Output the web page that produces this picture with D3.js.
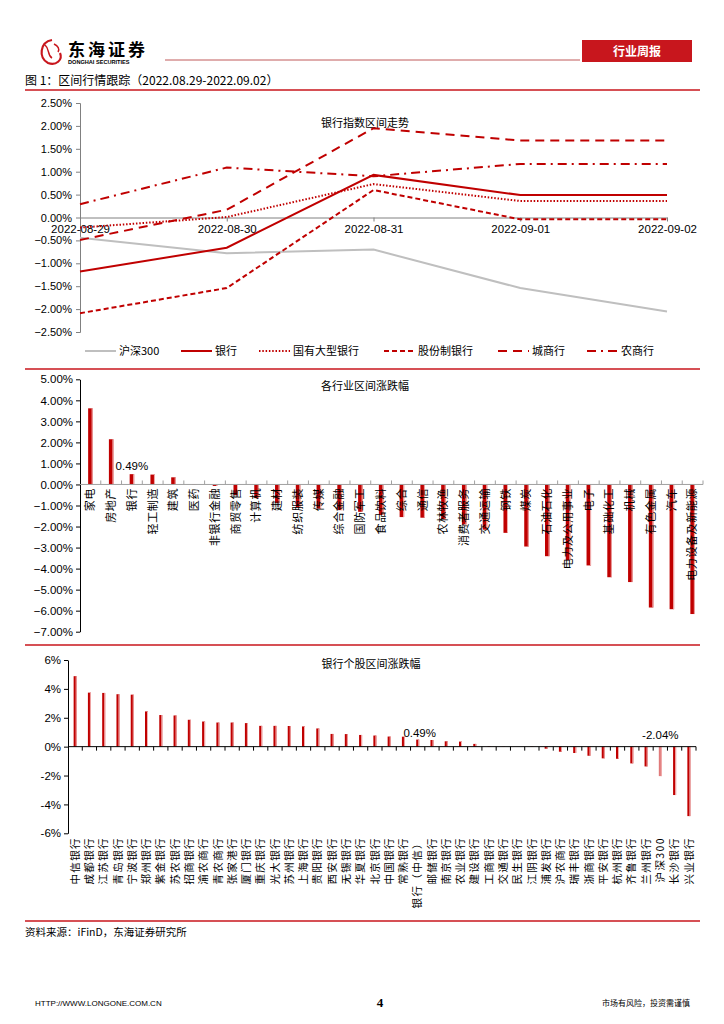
<!DOCTYPE html>
<html>
<head>
<meta charset="utf-8">
<script src="https://cdn.jsdelivr.net/npm/d3@7/dist/d3.min.js"></script>
<style>
  body { margin: 0; background: #fff; }
  svg { display: block; }
  .cn { font-family: "Noto Sans CJK SC", sans-serif; }
  .num { font-family: "Liberation Sans", Arial, sans-serif; }
</style>
</head>
<body>
<svg id="page" width="724" height="1024"></svg>
<script>
// ---- data ----
var dates = ["2022-08-29", "2022-08-30", "2022-08-31", "2022-09-01", "2022-09-02"];
var hs300 = [-0.44, -0.78, -0.70, -1.54, -2.05];
var bank = [-1.18, -0.66, 0.93, 0.49, 0.49];
var bigBank = [-0.22, 0.01, 0.73, 0.36, 0.36];
var jointBank = [-2.09, -1.54, 0.60, -0.04, -0.04];
var cityBank = [-0.49, 0.17, 1.95, 1.68, 1.68];
var ruralBank = [0.29, 1.09, 0.90, 1.17, 1.17];
var lineTicks = [2.5, 2, 1.5, 1, 0.5, 0, -0.5, -1, -1.5, -2, -2.5];

var industries = ["家电", "房地产", "银行", "轻工制造", "建筑", "医药", "非银行金融", "商贸零售", "计算机", "建材",
  "纺织服装", "传媒", "综合金融", "国防军工", "食品饮料", "综合", "通信", "农林牧渔", "消费者服务", "交通运输",
  "钢铁", "煤炭", "石油石化", "电力及公用事业", "电子", "基础化工", "机械", "有色金属", "汽车", "电力设备及新能源"];
var industryChg = [3.62, 2.15, 0.49, 0.47, 0.34, 0.02, -0.07, -0.50, -0.65, -0.88,
  -1.10, -1.15, -1.22, -1.30, -1.45, -1.55, -1.58, -1.65, -1.90, -2.15,
  -2.30, -2.95, -3.41, -3.60, -3.85, -4.41, -4.64, -5.85, -5.93, -6.16];
var industryTicks = [5, 4, 3, 2, 1, 0, -1, -2, -3, -4, -5, -6, -7];

var banks = ["中信银行", "成都银行", "江苏银行", "青岛银行", "宁波银行", "郑州银行", "紫金银行", "苏农银行", "招商银行", "渝农商行",
  "青农商行", "张家港行", "厦门银行", "重庆银行", "光大银行", "苏州银行", "上海银行", "贵阳银行", "西安银行", "无锡银行",
  "华夏银行", "北京银行", "中国银行", "常熟银行", "银行（中信）", "邮储银行", "南京银行", "农业银行", "建设银行", "工商银行",
  "交通银行", "民生银行", "江阴银行", "浦发银行", "沪农商行", "瑞丰银行", "浙商银行", "平安银行", "杭州银行", "齐鲁银行",
  "兰州银行", "沪深300", "长沙银行", "兴业银行"];
var bankChg = [4.88, 3.74, 3.72, 3.63, 3.60, 2.44, 2.19, 2.16, 1.86, 1.74,
  1.67, 1.67, 1.63, 1.44, 1.44, 1.43, 1.40, 1.26, 0.88, 0.87,
  0.81, 0.77, 0.70, 0.69, 0.49, 0.46, 0.37, 0.35, 0.19, 0.03,
  0.01, 0.00, -0.02, -0.14, -0.35, -0.44, -0.63, -0.81, -0.84, -1.16,
  -1.37, -2.04, -3.35, -4.81];
var bankTicks = [6, 4, 2, 0, -2, -4, -6];

var RED = "#c00000", GREY = "#808080";
var svg = d3.select("#page");

// ---- page header ----
var logo = svg.append("g");
logo.append("path").attr("d", "M52,40 C40,42 38,58 48,63 C56,66 63,60 60,53")
  .attr("fill", "none").attr("stroke", "#c8161d").attr("stroke-width", 2.2);
logo.append("path").attr("d", "M45,45 C50,49 47,55 52,58 M54,44 C58,46 60,49 58,52")
  .attr("fill", "none").attr("stroke", "#c8161d").attr("stroke-width", 1.5);
logo.append("text").attr("class", "cn").attr("x", 68).attr("y", 56)
  .attr("font-size", 17).attr("font-weight", "bold").attr("letter-spacing", 3).text("东海证券");
logo.append("text").attr("class", "num").attr("x", 68).attr("y", 64)
  .attr("font-size", 5.6).attr("font-weight", "bold").text("DONGHAI SECURITIES");
svg.append("line").attr("x1", 165).attr("x2", 580).attr("y1", 60).attr("y2", 60)
  .attr("stroke", "#b03030").attr("stroke-width", 0.8);
svg.append("rect").attr("x", 582).attr("y", 40).attr("width", 110).attr("height", 22).attr("fill", "#c8161d");
svg.append("text").attr("class", "cn").attr("x", 637).attr("y", 55.5).attr("text-anchor", "middle")
  .attr("fill", "#fff").attr("font-size", 12).attr("font-weight", "bold").text("行业周报");

svg.append("text").attr("class", "cn").attr("x", 25).attr("y", 85).attr("font-size", 12)
  .text("图 1：区间行情跟踪（2022.08.29-2022.09.02）");

[90, 369, 645, 921].forEach(function (y) {
  svg.append("line").attr("x1", 25).attr("x2", 700).attr("y1", y).attr("y2", y)
    .attr("stroke", "#c8161d").attr("stroke-width", 1.6);
});

// ---- chart 1: bank index lines ----
var x1 = d3.scalePoint().domain(dates).range([80, 667]);
var y1 = d3.scaleLinear().domain([-2.5, 2.5]).range([332, 103]);
var c1 = svg.append("g");

c1.append("g").attr("transform", "translate(80,0)")
  .call(d3.axisLeft(y1).tickValues(lineTicks).tickSize(4).tickFormat(function (d) { return d3.format(".2f")(d) + "%"; }))
  .call(function (g) {
    g.select(".domain").attr("stroke", GREY);
    g.selectAll(".tick line").attr("stroke", GREY);
    g.selectAll("text").attr("class", "num").attr("font-size", 11).attr("fill", "#000").attr("x", -8);
  });
c1.append("g").attr("transform", "translate(0," + y1(0) + ")")
  .call(d3.axisBottom(x1).tickSize(4).tickSizeOuter(0))
  .call(function (g) {
    g.select(".domain").attr("stroke", GREY);
    g.selectAll(".tick line").attr("stroke", GREY);
    g.selectAll("text").attr("class", "num").attr("font-size", 11.5).attr("fill", "#000").attr("y", 7);
  });

c1.append("text").attr("class", "cn").attr("x", 365).attr("y", 127).attr("text-anchor", "middle")
  .attr("font-size", 11).text("银行指数区间走势");

var series = [
  {name: "沪深300", values: hs300, color: "#bfbfbf", dash: null},
  {name: "银行", values: bank, color: RED, dash: null},
  {name: "国有大型银行", values: bigBank, color: RED, dash: "1.5,1.8"},
  {name: "股份制银行", values: jointBank, color: RED, dash: "5,3"},
  {name: "城商行", values: cityBank, color: RED, dash: "9,6"},
  {name: "农商行", values: ruralBank, color: RED, dash: "9,5,2,5"}
];
var line = d3.line().x(function (d, i) { return x1(dates[i]); }).y(function (d) { return y1(d); });
c1.selectAll(".series").data(series).enter().append("path")
  .attr("d", function (d) { return line(d.values); })
  .attr("fill", "none")
  .attr("stroke", function (d) { return d.color; })
  .attr("stroke-width", 2)
  .attr("stroke-dasharray", function (d) { return d.dash; });

var legX = [85, 181, 259, 384, 498, 587];
var leg = c1.selectAll(".leg").data(series).enter().append("g")
  .attr("transform", function (d, i) { return "translate(" + legX[i] + ",351)"; });
leg.append("line").attr("x1", 0).attr("x2", 31).attr("y1", 0).attr("y2", 0)
  .attr("stroke", function (d) { return d.color; }).attr("stroke-width", 2)
  .attr("stroke-dasharray", function (d) { return d.dash; });
leg.append("text").attr("class", "cn").attr("x", 34).attr("y", 4).attr("font-size", 11)
  .text(function (d) { return d.name; });

// ---- bar helper ----
function barChart(opt) {
  var g = svg.append("g");
  var x = d3.scaleBand().domain(opt.cats).range(opt.xr);
  var y = d3.scaleLinear().domain(opt.dom).range(opt.yr);
  g.append("g").attr("transform", "translate(" + opt.xr[0] + ",0)")
    .call(d3.axisLeft(y).tickValues(opt.ticks).tickSize(4).tickSizeOuter(0).tickFormat(opt.fmt))
    .call(function (a) {
      a.select(".domain").attr("stroke", "#000");
      a.selectAll(".tick line").attr("stroke", "#000");
      a.selectAll("text").attr("class", "num").attr("font-size", opt.tickFont).attr("fill", "#000").attr("x", -7);
    });
  g.selectAll(".bar").data(opt.vals).enter().append("rect")
    .attr("x", function (d, i) { return x(opt.cats[i]) + x.bandwidth() / 2 - opt.bw / 2; })
    .attr("y", function (d) { return y(Math.max(0, d)); })
    .attr("width", opt.bw)
    .attr("height", function (d) { return Math.abs(y(d) - y(0)); })
    .attr("fill", function (d, i) { return opt.cats[i] === opt.light ? "#e07a7a" : RED; });
  g.selectAll(".edge").data(opt.vals).enter().append("rect")
    .attr("x", function (d, i) { return x(opt.cats[i]) + x.bandwidth() / 2 + opt.bw / 2 - 1; })
    .attr("y", function (d) { return y(Math.max(0, d)); })
    .attr("width", 1)
    .attr("height", function (d) { return Math.abs(y(d) - y(0)); })
    .attr("fill", "#f2b0b0");
  // zero axis with band ticks
  g.append("line").attr("x1", opt.xr[0]).attr("x2", opt.xr[1]).attr("y1", y(0)).attr("y2", y(0))
    .attr("stroke", opt.zeroColor).attr("stroke-width", 1);
  g.selectAll(".bt").data(opt.cats).enter().append("line")
    .attr("x1", function (d) { return x(d) + x.bandwidth(); })
    .attr("x2", function (d) { return x(d) + x.bandwidth(); })
    .attr("y1", y(0)).attr("y2", y(0) + opt.tickDir)
    .attr("stroke", opt.zeroColor);
  g.append("text").attr("class", "cn").attr("x", opt.title[1]).attr("y", opt.title[2])
    .attr("text-anchor", "middle").attr("font-size", 11).text(opt.title[0]);
  g.selectAll(".lab").data(opt.cats).enter().append("text")
    .attr("class", "cn")
    .attr("transform", function (d) { return "translate(" + (x(d) + x.bandwidth() / 2) + "," + opt.labY + ") rotate(-90)"; })
    .attr("text-anchor", "end").attr("dy", "0.35em")
    .attr("font-size", opt.labFont).attr("letter-spacing", opt.labSpace)
    .text(function (d) { return d; });
  return {x: x, y: y, g: g};
}

// ---- chart 2: industries ----
var c2 = barChart({
  cats: industries, vals: industryChg, xr: [80, 703], dom: [-7, 5], yr: [631.7, 379.3],
  ticks: industryTicks, fmt: function (d) { return d3.format(".2f")(d) + "%"; }, tickFont: 11.5,
  bw: 4.5, zeroColor: "#a0a0a0", tickDir: -4, title: ["各行业区间涨跌幅", 365, 390],
  labY: 488, labFont: 11, labSpace: 0.6, light: null
});
c2.g.append("text").attr("class", "num").attr("x", c2.x("银行") + c2.x.bandwidth() / 2).attr("y", 470)
  .attr("text-anchor", "middle").attr("font-size", 11.5).text("0.49%");

// ---- chart 3: banks ----
var c3 = barChart({
  cats: banks, vals: bankChg, xr: [68, 696], dom: [-6, 6], yr: [833.3, 660],
  ticks: bankTicks, fmt: function (d) { return d + "%"; }, tickFont: 11.5,
  bw: 3, zeroColor: "#000", tickDir: 4, title: ["银行个股区间涨跌幅", 371, 668],
  labY: 837, labFont: 10.5, labSpace: 1.4, light: "沪深300"
});
c3.g.append("text").attr("class", "num").attr("x", c3.x("银行（中信）") + c3.x.bandwidth() / 2 + 2).attr("y", 737)
  .attr("text-anchor", "middle").attr("font-size", 11.5).text("0.49%");
c3.g.append("text").attr("class", "num").attr("x", c3.x("沪深300") + c3.x.bandwidth() / 2).attr("y", 739)
  .attr("text-anchor", "middle").attr("font-size", 11.5).text("-2.04%");

// ---- source & footer ----
svg.append("text").attr("class", "cn").attr("x", 25).attr("y", 936).attr("font-size", 10.5)
  .text("资料来源：iFinD，东海证券研究所");
svg.append("text").attr("class", "num").attr("x", 35).attr("y", 1006).attr("font-size", 8).text("HTTP://WWW.LONGONE.COM.CN");
svg.append("text").attr("x", 380).attr("y", 1007).attr("text-anchor", "middle").attr("font-family", "Liberation Serif")
  .attr("font-weight", "bold").attr("font-size", 13).text("4");
svg.append("text").attr("class", "cn").attr("x", 690).attr("y", 1006).attr("text-anchor", "end").attr("font-size", 8)
  .text("市场有风险，投资需谨慎");
</script>
</body>
</html>
